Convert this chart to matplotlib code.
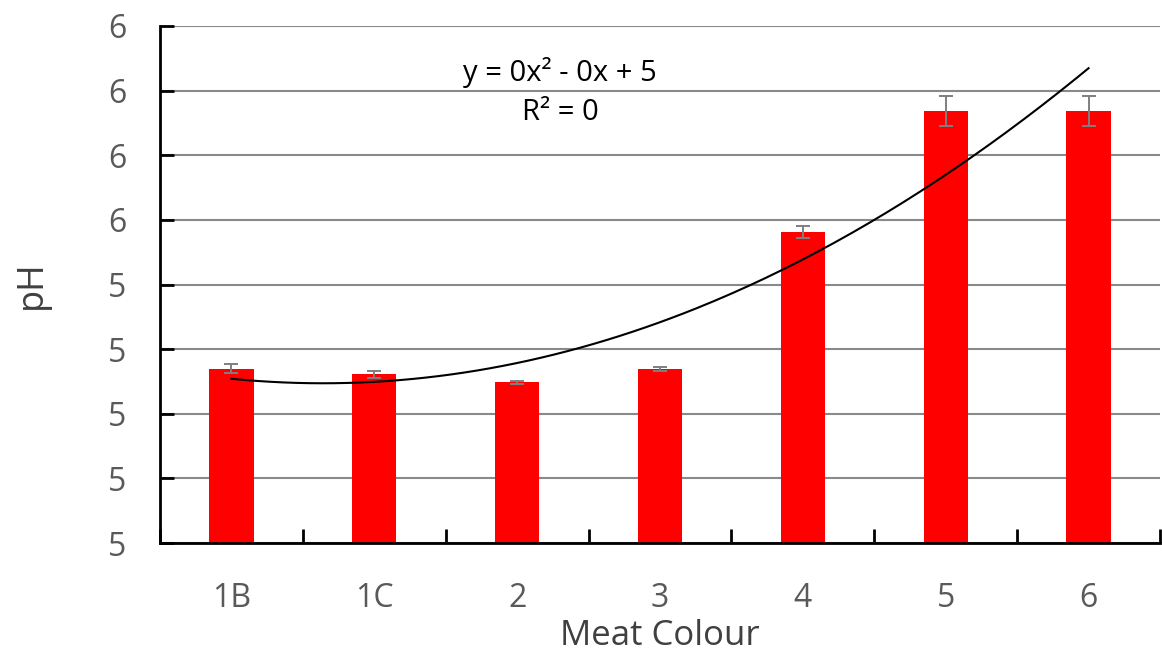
import numpy as np
import matplotlib.pyplot as plt

plt.rcParams['font.family'] = ['Open Sans', 'DejaVu Sans']

# Data
categories = ['1B', '1C', '2', '3', '4', '5', '6']
ph_mean = [5.385, 5.3805, 5.3743, 5.3846, 5.4906, 5.5842, 5.5842]
ph_err = [0.0036, 0.0025, 0.0014, 0.0012, 0.0046, 0.0114, 0.0114]
y_ticks = [5.25, 5.30, 5.35, 5.40, 5.45, 5.50, 5.55, 5.60, 5.65]
y_tick_labels = ['5', '5', '5', '5', '5', '6', '6', '6', '6']

x = np.arange(1, len(categories) + 1)

fig = plt.figure(figsize=(11.62, 6.57), dpi=100)
ax = fig.add_axes([160 / 1162, 1 - 543 / 657, 1000 / 1162, 517 / 657])

ax.bar(x, ph_mean, width=0.31, color='#ff0000', zorder=2)
ax.errorbar(x, ph_mean, yerr=ph_err, fmt='none', ecolor='#7f7f7f',
            elinewidth=1.4, capsize=5, capthick=1.4, zorder=3)

# Polynomial (order 2) trendline
coef = np.polyfit(x, ph_mean, 2)
xs = np.linspace(1, 7, 200)
ax.plot(xs, np.polyval(coef, xs), color='black', lw=1.5, zorder=4)

ax.set_xlim(0.5, 7.5)
ax.set_ylim(5.25, 5.65)
ax.set_yticks(y_ticks)
ax.set_yticklabels(y_tick_labels)
ax.set_xticks(x)
ax.set_xticklabels(categories)
ax.set_xticks(np.arange(0.5, 7.6, 1), minor=True)
ax.tick_params(axis='x', which='major', length=0, pad=28, labelsize=23, labelcolor='#595959')
ax.tick_params(axis='x', which='minor', direction='in', length=10, width=2, color='black')
ax.tick_params(axis='y', direction='in', length=10, width=2, color='black',
               pad=24, labelsize=23, labelcolor='#595959')

ax.grid(axis='y', color='#898989', lw=1.5, zorder=0)
ax.set_axisbelow(True)
for side in ['top', 'right']:
    ax.spines[side].set_visible(False)
for side in ['left', 'bottom']:
    ax.spines[side].set_linewidth(2)
    ax.spines[side].set_color('black')

ax.set_xlabel('Meat Colour', fontsize=25, color='#404040', labelpad=3)
ax.set_ylabel('pH', fontsize=26, color='#404040', labelpad=42)

fig.text(560 / 1162, 1 - 72 / 657, 'y = 0x² - 0x + 5', ha='center', va='center', fontsize=21)
fig.text(560 / 1162, 1 - 112 / 657, 'R² = 0', ha='center', va='center', fontsize=21)

fig.savefig('out.png', dpi=100)
